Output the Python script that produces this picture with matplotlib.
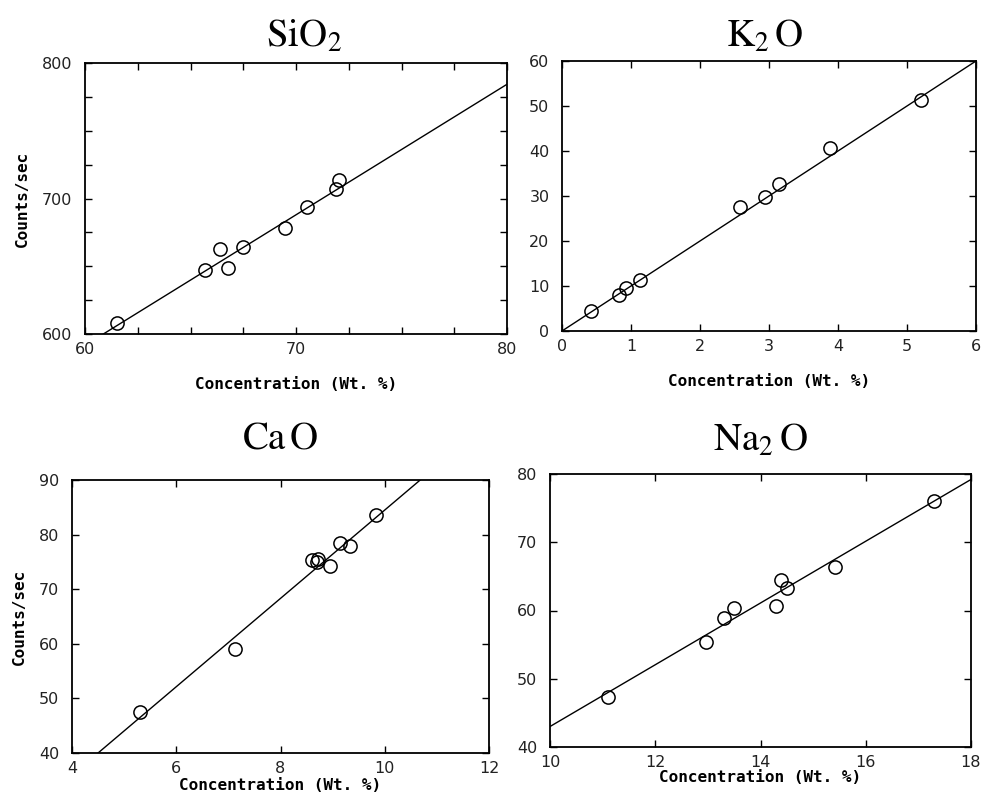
#!/usr/bin/env python3

import matplotlib.pyplot as plt
from matplotlib.ticker import MultipleLocator

plt.rcParams['mathtext.fontset'] = 'stix'

# SiO2
sio2_x = [61.5, 65.7, 66.4, 66.8, 67.5, 69.5, 70.5, 71.9, 72.05]
sio2_y = [608, 647, 663, 649, 664.5, 678.5, 693.5, 707, 713.6]
sio2_fit_x = [60.87, 80]
sio2_fit_y = [600, 784.3]

# K2O
k2o_x = [0.425, 0.83, 0.93, 1.125, 2.58, 2.94, 3.14, 3.88, 5.21]
k2o_y = [4.4, 8.1, 9.6, 11.3, 27.6, 29.8, 32.6, 40.6, 51.3]
k2o_fit_x = [0, 6]
k2o_fit_y = [0, 60]

# CaO
cao_x = [5.31, 7.12, 8.61, 8.71, 8.70, 8.95, 9.14, 9.33, 9.83]
cao_y = [47.5, 59.0, 75.3, 75.6, 74.9, 74.3, 78.4, 77.9, 83.6]
cao_fit_x = [4.5, 10.68]
cao_fit_y = [40, 90]

# Na2O
na2o_x = [11.11, 12.97, 13.31, 13.5, 14.3, 14.39, 14.51, 15.41, 17.3]
na2o_y = [47.3, 55.4, 58.85, 60.4, 60.7, 64.5, 63.35, 66.4, 76.0]
na2o_fit_x = [10, 18]
na2o_fit_y = [43.0, 79.2]

W, H = 982, 794
fig = plt.figure(figsize=(W / 100, H / 100), dpi=100)


def make_axes(px_left, px_top, px_right, px_bottom):
    return fig.add_axes([px_left / W, 1 - px_bottom / H,
                         (px_right - px_left) / W, (px_bottom - px_top) / H])


def style(ax, xlim, ylim, xmaj, ymaj, xmin=None, ymin=None, ylabel=True, xpad=4):
    ax.set_xlim(*xlim)
    ax.set_ylim(*ylim)
    ax.xaxis.set_major_locator(MultipleLocator(xmaj))
    ax.yaxis.set_major_locator(MultipleLocator(ymaj))
    if xmin:
        ax.xaxis.set_minor_locator(MultipleLocator(xmin))
    if ymin:
        ax.yaxis.set_minor_locator(MultipleLocator(ymin))
    ax.tick_params(which='both', direction='in', top=True, right=True,
                   length=5, width=1, labelsize=11.5, labelcolor='#222222')
    ax.tick_params(axis='x', pad=6)
    ax.tick_params(axis='y', pad=9)
    for s in ax.spines.values():
        s.set_linewidth(1.3)
    ax.set_xlabel('Concentration (Wt. %)', family='DejaVu Sans Mono',
                  fontweight='bold', fontsize=11.5, labelpad=xpad)
    if ylabel:
        ax.set_ylabel('Counts/sec', family='DejaVu Sans Mono',
                      fontweight='bold', fontsize=11.5, labelpad=9)


def draw(ax, x, y, fx, fy):
    ax.plot(fx, fy, color='black', lw=1.0)
    ax.plot(x, y, 'o', mfc='none', mec='black', ms=9.5, mew=1.1)


ax1 = make_axes(85, 63, 507, 334)
draw(ax1, sio2_x, sio2_y, sio2_fit_x, sio2_fit_y)
style(ax1, (60, 80), (600, 800), 10, 100, 2.5, 25, xpad=14)
fig.text(304 / W, 1 - 36 / H, r'$\mathrm{SiO_{2}}$', fontsize=28,
         ha='center', va='center')

ax2 = make_axes(562, 61, 976, 331)
draw(ax2, k2o_x, k2o_y, k2o_fit_x, k2o_fit_y)
style(ax2, (0, 6), (0, 60), 1, 10, ylabel=False, xpad=14)
fig.text(765 / W, 1 - 36 / H, r'$\mathrm{K_{2}\,O}$', fontsize=28,
         ha='center', va='center')

ax3 = make_axes(72, 480, 489, 753)
draw(ax3, cao_x, cao_y, cao_fit_x, cao_fit_y)
style(ax3, (4, 12), (40, 90), 2, 10, xpad=1)
fig.text(280 / W, 1 - 438 / H, r'$\mathrm{Ca\,O}$', fontsize=28,
         ha='center', va='center')

ax4 = make_axes(550, 474, 971, 747)
draw(ax4, na2o_x, na2o_y, na2o_fit_x, na2o_fit_y)
style(ax4, (10, 18), (40, 80), 2, 10, ylabel=False, xpad=0)
fig.text(760 / W, 1 - 440 / H, r'$\mathrm{Na_{2}\,O}$', fontsize=28,
         ha='center', va='center')

fig.savefig('out.png', dpi=100)
